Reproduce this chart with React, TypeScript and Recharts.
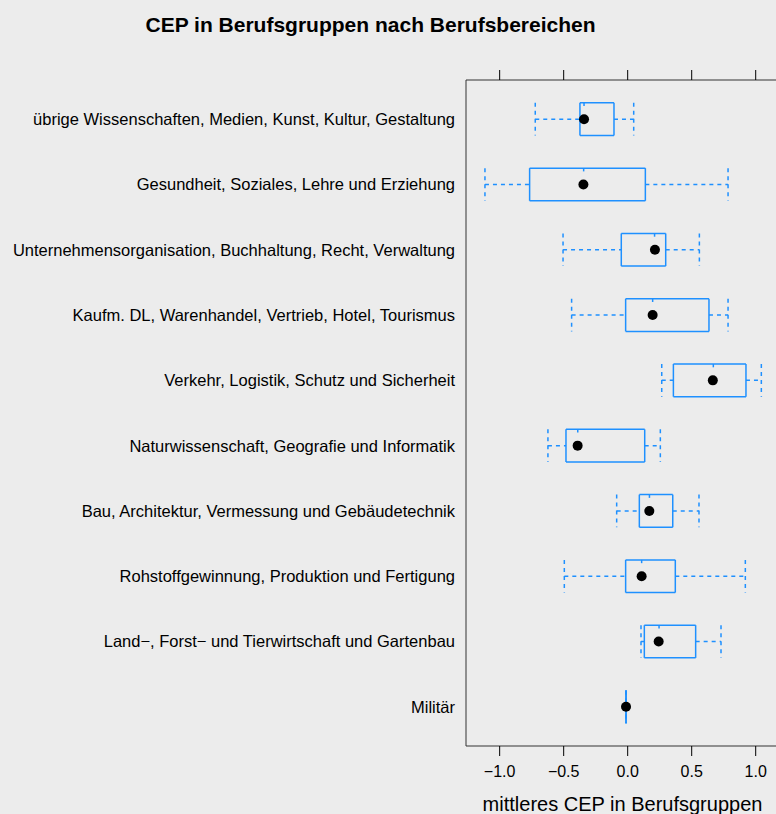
import { ComposedChart, ReferenceLine, Scatter, XAxis, YAxis } from "recharts";

const categories = [
  "übrige Wissenschaften, Medien, Kunst, Kultur, Gestaltung",
  "Gesundheit, Soziales, Lehre und Erziehung",
  "Unternehmensorganisation, Buchhaltung, Recht, Verwaltung",
  "Kaufm. DL, Warenhandel, Vertrieb, Hotel, Tourismus",
  "Verkehr, Logistik, Schutz und Sicherheit",
  "Naturwissenschaft, Geografie und Informatik",
  "Bau, Architektur, Vermessung und Gebäudetechnik",
  "Rohstoffgewinnung, Produktion und Fertigung",
  "Land−, Forst− und Tierwirtschaft und Gartenbau",
  "Militär",
];
const whiskerLow = [-0.722, -1.115, -0.505, -0.438, 0.266, -0.623, -0.086, -0.495, 0.104, -0.013];
const boxLow = [-0.373, -0.766, -0.05, -0.016, 0.357, -0.482, 0.091, -0.016, 0.13, -0.013];
const medians = [-0.341, -0.344, 0.21, 0.195, 0.669, -0.39, 0.17, 0.109, 0.245, -0.013];
const boxHigh = [-0.107, 0.138, 0.297, 0.635, 0.924, 0.133, 0.352, 0.372, 0.531, -0.013];
const whiskerHigh = [0.047, 0.784, 0.56, 0.784, 1.044, 0.255, 0.557, 0.919, 0.729, -0.013];
const means = [-0.341, -0.346, 0.213, 0.195, 0.665, -0.391, 0.169, 0.109, 0.242, -0.013];
const xTicks = [-1, -0.5, 0, 0.5, 1];

const rows = categories.map((_, i) => i + 1);
const meanPoints = means.map((m, i) => ({ x: m, y: i + 1 }));

const font = "'Liberation Sans', Arial, Helvetica, sans-serif";
const blue = "#1e90ff";
const half = 0.25;
const xDomain: [number, number] = [-1.263, 1.182];
const fmt = (v: number) => v.toFixed(1).replace("-", "−");

type Pt = { x: number; y: number };
const seg = (key: string, a: Pt, b: Pt, dashed: boolean) => (
  <ReferenceLine
    key={key}
    segment={[a, b]}
    stroke={blue}
    strokeWidth={1.5}
    strokeDasharray={dashed ? "4 4" : undefined}
    ifOverflow="visible"
  />
);

export default function App() {
  const lines: any[] = [];
  rows.forEach((r, i) => {
    const lo = r - half;
    const hi = r + half;
    // whiskers + caps
    lines.push(seg(`wl${i}`, { x: whiskerLow[i], y: r }, { x: boxLow[i], y: r }, true));
    lines.push(seg(`wh${i}`, { x: boxHigh[i], y: r }, { x: whiskerHigh[i], y: r }, true));
    lines.push(seg(`cl${i}`, { x: whiskerLow[i], y: lo }, { x: whiskerLow[i], y: hi }, true));
    lines.push(seg(`ch${i}`, { x: whiskerHigh[i], y: lo }, { x: whiskerHigh[i], y: hi }, true));
    // box
    lines.push(seg(`bl${i}`, { x: boxLow[i], y: lo }, { x: boxLow[i], y: hi }, false));
    lines.push(seg(`br${i}`, { x: boxHigh[i], y: lo }, { x: boxHigh[i], y: hi }, false));
    if (boxHigh[i] > boxLow[i]) {
      lines.push(seg(`bt${i}`, { x: boxLow[i], y: lo }, { x: boxHigh[i], y: lo }, false));
      lines.push(seg(`bb${i}`, { x: boxLow[i], y: hi }, { x: boxHigh[i], y: hi }, false));
      lines.push(seg(`md${i}`, { x: medians[i], y: lo }, { x: medians[i], y: lo + 0.05 }, false));
    }
  });

  return (
    <div
      style={{
        position: "absolute",
        left: 0,
        top: 0,
        width: 776,
        height: 814,
        overflow: "hidden",
        background: "#ececec",
        fontFamily: font,
      }}
    >
      <div
        style={{
          position: "absolute",
          left: 0,
          top: 14,
          width: 741,
          textAlign: "center",
          fontSize: 21,
          lineHeight: "21px",
          fontWeight: "bold",
          color: "#000",
        }}
      >
        CEP in Berufsgruppen nach Berufsbereichen
      </div>
      <ComposedChart width={780} height={814} margin={{ top: 50, right: 1, bottom: 38, left: 0 }}>
        <XAxis
          xAxisId="top"
          dataKey="x"
          orientation="top"
          type="number"
          domain={xDomain}
          allowDataOverflow
          ticks={xTicks}
          interval={0}
          height={30}
          tickSize={10}
          tickFormatter={fmt}
          axisLine={{ stroke: "#333" }}
          tickLine={{ stroke: "#000" }}
          tick={{ fill: "transparent", fontSize: 1 }}
        />
        <XAxis
          dataKey="x"
          type="number"
          domain={xDomain}
          allowDataOverflow
          ticks={xTicks}
          interval={0}
          height={30}
          tickSize={10}
          tickMargin={10}
          tickFormatter={fmt}
          axisLine={{ stroke: "#333" }}
          tickLine={{ stroke: "#000" }}
          tick={{ fill: "#000", fontSize: 16, fontFamily: font }}
          label={{
            value: "mittleres CEP in Berufsgruppen",
            position: "bottom",
            offset: 21,
            fill: "#000",
            fontSize: 20,
            fontFamily: font,
          }}
        />
        <YAxis
          dataKey="y"
          type="number"
          domain={[0.4, 10.6]}
          reversed
          allowDataOverflow
          ticks={rows}
          interval={0}
          width={466}
          tickLine={false}
          tickMargin={5}
          tickFormatter={(v: number) => categories[v - 1] ?? ""}
          axisLine={{ stroke: "#333" }}
          tick={{ fill: "#000", fontSize: 16.5, fontFamily: font }}
        />
        {lines}
        <Scatter
          xAxisId="top"
          data={meanPoints}
          isAnimationActive={false}
          shape={() => <g />}
        />
        <Scatter
          data={meanPoints}
          isAnimationActive={false}
          shape={(p: any) => <circle cx={p.cx} cy={p.cy} r={5} fill="#000" />}
        />
      </ComposedChart>
    </div>
  );
}
